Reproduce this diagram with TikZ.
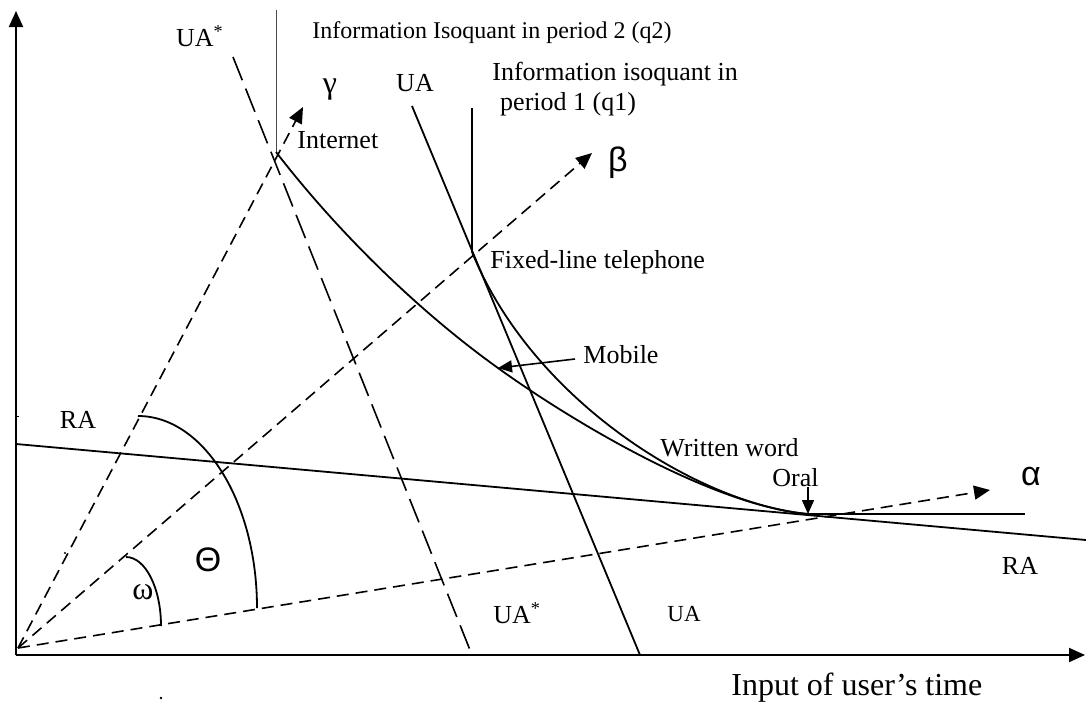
\documentclass[tikz,border=0pt]{standalone}
\usepackage{fontspec}
\setmainfont{Liberation Serif}
\newfontfamily\grsans{Liberation Sans}
\usetikzlibrary{arrows.meta}
\begin{document}
\begin{tikzpicture}[x=0.5pt,y=-0.5pt,
  tip/.style={-{Triangle[length=8pt,width=7pt]}},
  axisline/.style={line width=1pt,tip},
  ray/.style={line width=0.8pt,dash pattern=on 6pt off 3.5pt,tip},
  longdash/.style={line width=0.8pt,dash pattern=on 12.5pt off 4.5pt},
  solidline/.style={line width=0.9pt},
  thinline/.style={line width=0.5pt,black!70},
  curve/.style={line width=0.9pt},
  pointer/.style={line width=0.8pt,-{Triangle[length=7pt,width=6pt]}},
  lbl/.style={font=\fontsize{13}{15}\selectfont,inner sep=0pt},
  titlelbl/.style={font=\fontsize{12}{14}\selectfont,inner sep=0pt},
  small/.style={font=\fontsize{11.5}{14}\selectfont,inner sep=0pt},
  big/.style={font=\fontsize{16}{19}\selectfont,inner sep=0pt},
  greek/.style={font=\fontsize{16}{18}\selectfont,inner sep=0pt},
  greeksans/.style={font=\grsans\fontsize{17}{19}\selectfont,inner sep=0pt}]
\useasboundingbox (0,0) rectangle (1086,702);

% key points
\coordinate (O) at (18,648);
\coordinate (xa0) at (16,655);
\coordinate (xa1) at (1085,655);
\coordinate (ya1) at (16,11);
\coordinate (gtip) at (303,107);
\coordinate (btip) at (592,153);
\coordinate (atip) at (990,490);
\coordinate (inet) at (276,152);
\coordinate (fixed) at (472,252);
\coordinate (oral) at (808,514);
\coordinate (mob) at (498,368);
\coordinate (mobstart) at (575,359);
\coordinate (oraltop) at (808,487);
\coordinate (uas0) at (233,57);
\coordinate (uas1) at (472,655);
\coordinate (ua0) at (412,106);
\coordinate (ua1) at (640,655);
\coordinate (ra0) at (16,444);
\coordinate (ra1) at (1086,540);
\coordinate (q2top) at (276,10);
\coordinate (q1top) at (472,108);
\coordinate (q1end) at (1025,514);

% axes
\draw[axisline] (xa0) -- (ya1);
\draw[axisline] (xa0) -- (xa1);

% rays
\draw[ray] (O) -- (gtip);
\draw[ray] (O) -- (btip);
\draw[ray] (O) -- (atip);

% allocation lines
\draw[longdash] (uas0) -- (uas1);
\draw[solidline] (ua0) -- (ua1);
\draw[solidline] (ra0) -- (ra1);

% isoquants
\draw[thinline] (q2top) -- (inet);
\draw[solidline] (q1top) -- (fixed);
\draw[solidline] (oral) -- (q1end);
\draw[curve] (fixed) .. controls (533,402) and (700,504) .. (oral);
\draw[curve] (inet) .. controls (337,231) and (417,310) .. (mob)
  .. controls (563,415) and (708,505) .. (oral);

% angle arcs
\draw[solidline] (138,416) .. controls (203.7,416) and (257,502) .. (257,608);
\draw[solidline] (126,557) .. controls (145.3,557) and (161,587.9) .. (161,626);

% pointers
\draw[pointer] (mobstart) -- (mob);
\draw[pointer] (oraltop) -- (oral);

% labels
\node[lbl] (uastar) at (200,36) {UA\textsuperscript{*}};
\node[titlelbl,anchor=west] (q2lbl) at (312,33) {Information Isoquant in period 2 (q2)};
\node[greek] (gam) at (330,90) {γ};
\node[lbl] (uatop) at (415,83) {UA};
\node[lbl,anchor=north west,align=left] (q1lbl) at (492,62) {Information isoquant in\\\hspace*{0.3em}period 1 (q1)};
\node[lbl,anchor=west] (inetlbl) at (297,140) {Internet};
\node[greeksans] (bet) at (618,163) {β};
\node[lbl,anchor=west] (fixlbl) at (490,262) {Fixed-line telephone};
\node[lbl,anchor=west] (mobile) at (583,355) {Mobile};
\node[lbl,anchor=west] (wlbl) at (660,448) {Written word};
\node[lbl,anchor=west] (orallbl) at (772,478) {Oral};
\node[greeksans] (alp) at (1031,477) {α};
\node[lbl] (raleft) at (78,420) {RA};
\node[lbl] (raright) at (1020,566) {RA};
\node[greeksans] (thet) at (208,560) {Θ};
\node[greek] (omg) at (143,592) {ω};
\node[lbl,anchor=west] (uasbot) at (493,613) {UA\textsuperscript{*}};
\node[small,anchor=west] (uabot) at (667,614) {UA};
\node[big,anchor=base west] (xlbl) at (731,695) {Input of user’s time};

% small marks
\draw[line width=0.5pt] (16,416) -- (19,416);
\fill (65,553) circle (0.6pt);
\fill (161,698) circle (0.7pt);
\end{tikzpicture}
\end{document}
